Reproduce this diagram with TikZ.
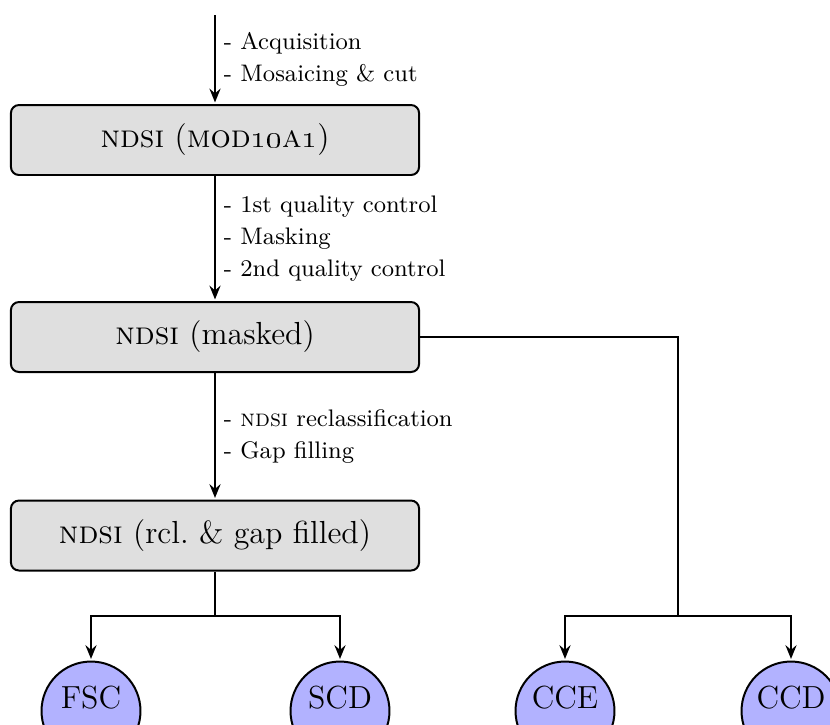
\documentclass[tikz,border=0pt]{standalone}
\usetikzlibrary{arrows.meta,shapes.geometric}
\begin{document}
\begin{tikzpicture}[x=0.3759pt,y=-0.3759pt,
  line width=0.75pt,
  arr/.style={-{Stealth[length=5.2pt,width=4.2pt,inset=1.8pt]},shorten >=0.6pt},
  proc/.style={draw,fill=gray!25,rounded corners=3pt,minimum width=153.4pt,minimum height=26.3pt,font=\large,inner sep=0pt},
  prod/.style={draw,circle,fill=blue!30,minimum size=37.2pt,font=\large,inner sep=0pt,text height=8.2pt,text depth=9.8pt},
  lbl/.style={midway,right,align=left,font=\small,inner sep=2pt,xshift=1pt}]
\useasboundingbox (0,0) rectangle (830,724);
\coordinate (top) at (215,15);
\node[proc] (b1) at (215,140) {\textsc{ndsi} (\textsc{mod}\oldstylenums{10}\textsc{a}\oldstylenums{1})};
\node[proc] (b2) at (215,337) {\textsc{ndsi} (masked)};
\node[proc] (b3) at (215,535.5) {\textsc{ndsi} (rcl.\ \& gap filled)};
\coordinate (s1) at (215,616);
\coordinate (s2) at (678,616);
\node[prod] (fsc) at (91,711) {FSC};
\node[prod] (scd) at (340,711) {SCD};
\node[prod] (cce) at (565,711) {CCE};
\node[prod] (ccd) at (791,711) {CCD};
\draw[arr] (top) -- node[lbl] {- Acquisition\\[1pt]- Mosaicing \& cut} (b1);
\draw[arr] (b1) -- node[lbl] {- 1st quality control\\[1pt]- Masking\\[1pt]- 2nd quality control} (b2);
\draw[arr] (b2) -- node[lbl] {- \textsc{ndsi} reclassification\\[1pt]- Gap filling} (b3);
\draw (b3) -- (s1);
\draw[arr] (s1) -| (fsc);
\draw[arr] (s1) -| (scd);
\draw (b2) -| (s2);
\draw[arr] (s2) -| (cce);
\draw[arr] (s2) -| (ccd);
\end{tikzpicture}
\end{document}
